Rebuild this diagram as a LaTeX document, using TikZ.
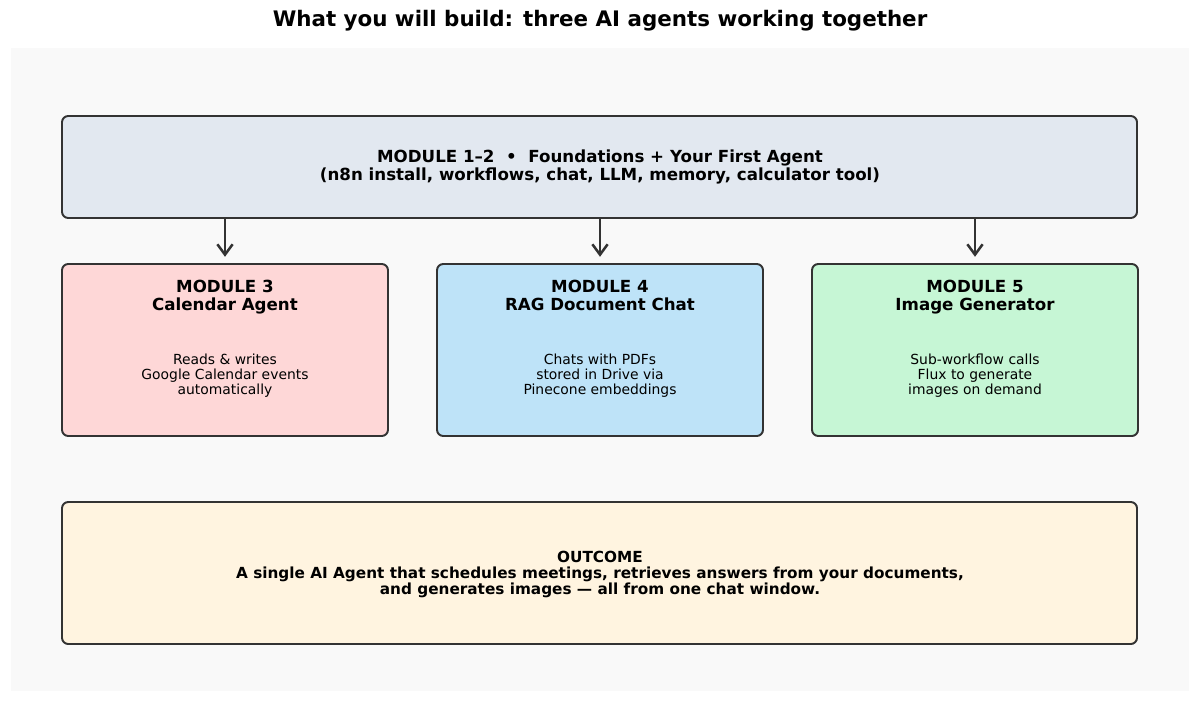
\documentclass[tikz,border=0pt]{standalone}
\usepackage{fontspec}
\setmainfont{DejaVu Sans}
\usetikzlibrary{arrows.meta}
\definecolor{panel}{HTML}{F9F9F9}
\definecolor{edge}{HTML}{333333}
\definecolor{topfill}{HTML}{E2E8F0}
\definecolor{redfill}{HTML}{FED7D7}
\definecolor{bluefill}{HTML}{BEE3F8}
\definecolor{greenfill}{HTML}{C6F6D5}
\definecolor{outfill}{HTML}{FFF4E0}
\begin{document}
\begin{tikzpicture}[x=0.72pt,y=-0.72pt,
  box/.style={draw=edge, line width=1.4pt, rounded corners=4.5pt, inner sep=0pt},
  head/.style={align=center, font=\fontsize{12}{12.96}\selectfont\bfseries, inner sep=0pt, text depth=2.8pt},
  body/.style={align=center, font=\fontsize{10}{10.8}\selectfont, inner sep=0pt, text depth=2.4pt},
  conn/.style={draw=edge, line width=1.8pt, -{Straight Barb[length=7.5pt,width=11pt,line width=1.8pt]}, shorten >=4.5pt}
]
\useasboundingbox (0,0) rectangle (1200,703);
\fill[panel] (11,48) rectangle (1189,691);
\node[font=\fontsize{15.4}{18}\selectfont\bfseries, inner sep=0pt] (title) at (600,21) {What you will build: three AI agents working together};

\node[box, fill=topfill, minimum width={1075*0.72pt}, minimum height={102*0.72pt}] (top) at (599.5,167) {};
\node[head] (toptext) at (600,167) {MODULE 1–2 \ • \ Foundations + Your First Agent\\(n8n install, workflows, chat, LLM, memory, calculator tool)};

\node[box, fill=redfill, minimum width={326*0.72pt}, minimum height={172*0.72pt}] (m3) at (225,350) {};
\node[box, fill=bluefill, minimum width={326*0.72pt}, minimum height={172*0.72pt}] (m4) at (600,350) {};
\node[box, fill=greenfill, minimum width={326*0.72pt}, minimum height={172*0.72pt}] (m5) at (975,350) {};

\node[head] (m3h) at (225,297) {MODULE 3\\Calendar Agent};
\node[head] (m4h) at (600,297) {MODULE 4\\RAG Document Chat};
\node[head] (m5h) at (975,297) {MODULE 5\\Image Generator};

\node[body] (m3b) at (225,376) {Reads \& writes\\Google Calendar events\\automatically};
\node[body] (m4b) at (600,376) {Chats with PDFs\\stored in Drive via\\Pinecone embeddings};
\node[body] (m5b) at (975,376) {Sub-workflow calls\\Flux to generate\\images on demand};

\node[box, fill=outfill, minimum width={1075*0.72pt}, minimum height={142*0.72pt}] (out) at (599.5,573) {};
\node[align=center, font=\fontsize{11}{11.5}\selectfont\bfseries, inner sep=0pt] (outtext) at (600,574) {OUTCOME\\A single AI Agent that schedules meetings, retrieves answers from your documents,\\and generates images — all from one chat window.};

\draw[conn] (top.south -| m3.north) -- (m3.north);
\draw[conn] (top.south -| m4.north) -- (m4.north);
\draw[conn] (top.south -| m5.north) -- (m5.north);
\end{tikzpicture}
\end{document}
